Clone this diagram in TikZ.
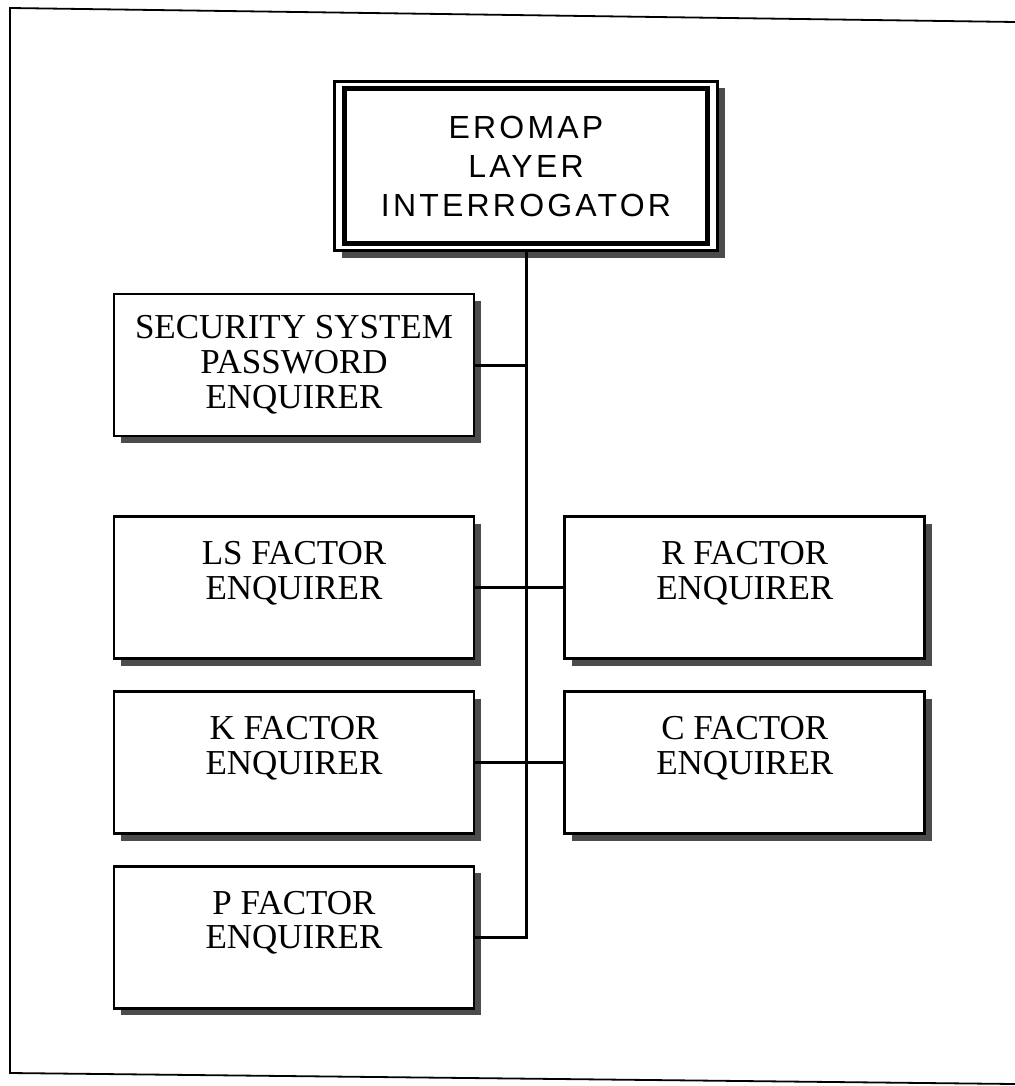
\documentclass[tikz,border=0pt]{standalone}
\usepackage{fontspec}
\setmainfont{Liberation Serif}
\newfontfamily\headfont[LetterSpace=10]{Liberation Sans}
\usetikzlibrary{positioning,shadows}
\tikzset{
	boxshadow/.style={general shadow={fill=black!70, shadow xshift=3.5pt, shadow yshift=-3.5pt}},
	enquirer/.style={draw, rectangle, line width=1.4pt, fill=white, boxshadow,
		minimum width=180pt, minimum height=71pt, align=center,
		font=\fontsize{17.5}{17.5}\selectfont},
	link/.style={line width=1.5pt},
}

\begin{document}
\begin{tikzpicture}[x=0.5pt, y=-0.5pt, node distance=15pt]
	\useasboundingbox (0,0) rectangle (1015,1086);
	% page frame
	\draw[line width=0.9pt] (1015,22) -- (10,8) -- (10,1073) -- (1015,1084);

	\node[draw, rectangle, line width=1.2pt, fill=white, boxshadow, minimum width=191.5pt, minimum height=84.5pt] (eromapframe) at (526,166) {};
	\node[draw, rectangle, line width=2.5pt, minimum width=181.5pt, minimum height=77.5pt, align=center,
		font=\headfont\fontsize{16}{19.5}\selectfont] (eromap) at (526,166) {EROMAP\\LAYER\\INTERROGATOR};

	\node[enquirer] (security) at (294,365) {SECURITY SYSTEM\\PASSWORD\\ENQUIRER};
	\node[enquirer, below=39pt of security] (ls) {LS FACTOR\\ENQUIRER\\~};
	\node[enquirer, below=of ls] (k) {K FACTOR\\ENQUIRER\\~};
	\node[enquirer, below=of k] (p) {P FACTOR\\ENQUIRER\\~};
	\node[enquirer, right=44pt of ls] (r) {R FACTOR\\ENQUIRER\\~};
	\node[enquirer, right=44pt of k] (c) {C FACTOR\\ENQUIRER\\~};

	\draw[link] (eromapframe.south) -- (eromapframe.south |- p.east) -- (p.east);
	\draw[link] (security.east) -- (security.east -| eromapframe.south);
	\draw[link] (ls.east) -- (r.west);
	\draw[link] (k.east) -- (c.west);
\end{tikzpicture}
\end{document}
